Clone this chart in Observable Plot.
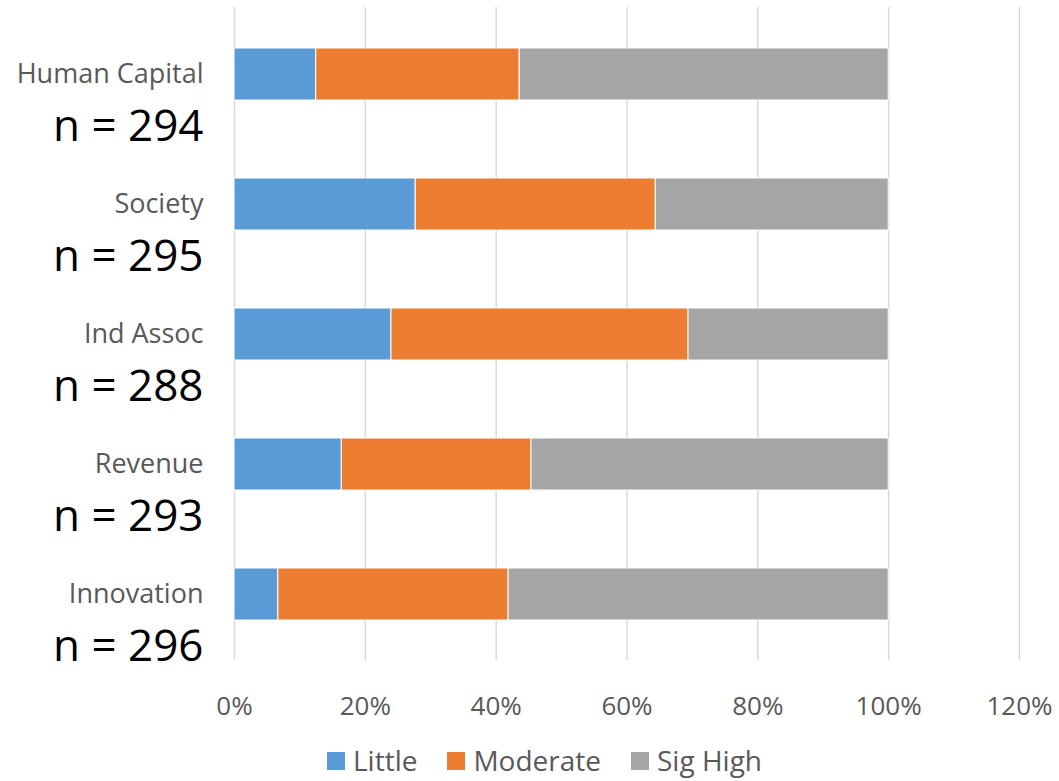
<!DOCTYPE html>
<html>
<head>
<meta charset="utf-8">
<script src="https://cdn.jsdelivr.net/npm/d3@7"></script>
<script src="https://cdn.jsdelivr.net/npm/@observablehq/plot@0.6"></script>
<style>
  html, body { margin: 0; padding: 0; background: #fff; }
  #chart { width: 1059px; font-family: "Open Sans", sans-serif; }
  .legend { display: flex; justify-content: center; align-items: center; gap: 30px; margin-top: 14px; padding-left: 30px;
    font-family: "Open Sans", sans-serif; font-size: 28px; color: #595959; line-height: 1.2; }
  .legend .item { display: flex; align-items: center; }
  .legend .sw { width: 18px; height: 18px; margin-right: 8px; }
</style>
</head>
<body>
<div id="chart"></div>
<script>
const categories = ["Human Capital", "Society", "Ind Assoc", "Revenue", "Innovation"];
const nValues = [294, 295, 288, 293, 296];
const series = ["Little", "Moderate", "Sig High"];
const colors = ["#5B9BD5", "#ED7D31", "#A5A5A5"];
const little   = [0.125, 0.277, 0.240, 0.164, 0.067];
const moderate = [0.311, 0.367, 0.454, 0.290, 0.352];
const sigHigh  = [0.564, 0.356, 0.306, 0.546, 0.581];
const xTicks = [0, 0.2, 0.4, 0.6, 0.8, 1.0, 1.2];

const valuesBySeries = [little, moderate, sigHigh];
const data = [];
categories.forEach((c, i) => {
  series.forEach((s, j) => data.push({category: c, series: s, value: valuesBySeries[j][i]}));
});
const nData = categories.map((c, i) => ({category: c, label: `n = ${nValues[i]}`}));

const plot = Plot.plot({
  width: 1059,
  height: 730,
  marginLeft: 234,
  marginRight: 40,
  marginTop: 7,
  marginBottom: 70,
  style: {fontFamily: "'Open Sans', sans-serif", color: "#595959", background: "#fff"},
  x: {domain: [0, 1.2]},
  y: {domain: categories, paddingInner: 0.6, paddingOuter: 0.3},
  color: {domain: series, range: colors},
  marks: [
    Plot.gridX(xTicks, {stroke: "#d9d9d9", strokeOpacity: 1, strokeWidth: 1.5}),
    Plot.barX(data, Plot.stackX({x: "value", y: "category", fill: "series", stroke: "#fff", strokeWidth: 1})),
    Plot.axisX({ticks: xTicks, tickSize: 0, tickPadding: 36, fontSize: 26, tickFormat: d3.format(".0%"), label: null}),
    Plot.axisY({tickSize: 0, tickPadding: 31, fontSize: 27, label: null}),
    Plot.text(nData, {y: "category", text: "label", frameAnchor: "left", textAnchor: "end", dx: -31, dy: 52, fontSize: 44, fill: "#000"})
  ]
});
document.getElementById("chart").appendChild(plot);

const legend = document.createElement("div");
legend.className = "legend";
series.forEach((s, i) => {
  const item = document.createElement("div");
  item.className = "item";
  const sw = document.createElement("span");
  sw.className = "sw";
  sw.style.background = colors[i];
  const t = document.createElement("span");
  t.textContent = s;
  item.appendChild(sw);
  item.appendChild(t);
  legend.appendChild(item);
});
document.getElementById("chart").appendChild(legend);
</script>
</body>
</html>
